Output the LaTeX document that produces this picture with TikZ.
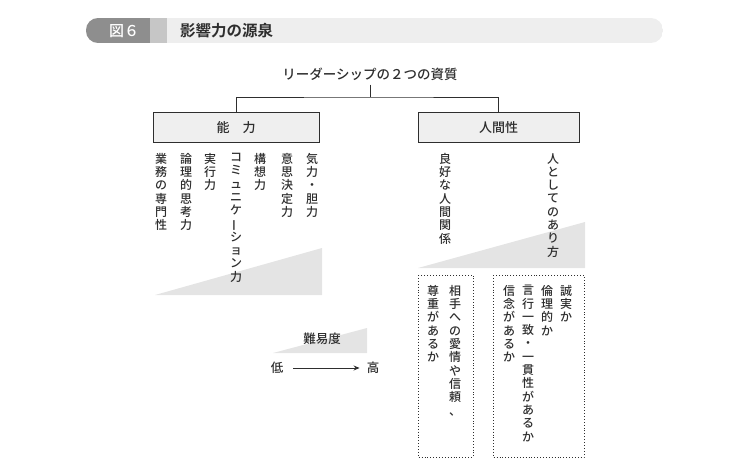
\documentclass[tikz,border=0pt]{standalone}
\usepackage{fontspec}
\setmainfont{Noto Sans CJK JP Medium}[BoldFont={Noto Sans CJK JP Bold}]
\usetikzlibrary{arrows.meta,positioning}
\definecolor{ink}{HTML}{2E2E2E}
\definecolor{hdrdark}{HTML}{8E8E8E}
\definecolor{hdrmid}{HTML}{C6C6C6}
\definecolor{hdrlight}{HTML}{EEEEEE}
\definecolor{boxfill}{HTML}{EFEFEF}
\definecolor{wedgegray}{HTML}{E4E4E4}
\newcommand{\vbar}{\rotatebox[origin=c]{90}{ー}}

\begin{document}
\begin{tikzpicture}[x=1pt,y=-1pt,
  vcol/.style={anchor=north,align=center,inner sep=0pt,text=ink,font=\fontsize{12}{13.3}\selectfont},
  qbox/.style={draw=ink,line width=1pt,fill=boxfill,minimum height=30pt,text=ink,font=\fontsize{13}{15}\selectfont},
  conn/.style={draw=ink,line width=0.8pt},
  dotbox/.style={draw=ink,line width=0.9pt,dotted},
  wedge/.style={fill=wedgegray},
  lbl/.style={inner sep=4pt,text=ink,font=\fontsize{12.5}{14}\selectfont}]
\useasboundingbox (0,0) rectangle (750,476);
% header
\begin{scope}
\clip[rounded corners=12pt] (86,18) rectangle (663,43);
\fill[hdrlight] (86,18) rectangle (663,43);
\fill[hdrdark] (86,18) rectangle (150,43);
\fill[hdrmid] (150,18) rectangle (167,43);
\end{scope}
\node[text=white,font=\fontsize{15}{17}\selectfont] (fig) at (124,31) {図６};
\node[anchor=west,inner sep=0pt,text=ink,font=\fontsize{15.5}{17}\selectfont\bfseries] (title) at (180,31) {影響力の源泉};
% tree
\node[lbl,font=\fontsize{13.5}{15}\selectfont] (top) at (370,74) {リーダーシップの２つの資質};
\node[qbox,minimum width=166pt] (abil) at (236,128) {能　力};
\node[qbox,minimum width=161pt] (human) at (498.5,127.5) {人間性};
\coordinate (jn) at (top.south |- 0,97);
\draw[conn] (top.south) -- (jn);
\draw[conn] (abil.north) |- (jn) -| (human.north);
% abilities
\fill[wedge] (155,295) -- (322,295) -- (322,248) -- cycle;
\node[vcol] (a1) at (161,153) {業\\務\\の\\専\\門\\性};
\node[vcol] (a2) at (186,153) {論\\理\\的\\思\\考\\力};
\node[vcol] (a3) at (210,153) {実\\行\\力};
\node[vcol] (a4) at (236,153) {コ\\ミ\\ュ\\ニ\\ケ\\\vbar\\シ\\ョ\\ン\\力};
\node[vcol] (a5) at (260,153) {構\\想\\力};
\node[vcol] (a6) at (287,153) {意\\思\\決\\定\\力};
\node[vcol] (a7) at (312,153) {気\\力\\・\\胆\\力};
% humanity
\fill[wedge] (418,268) -- (585,268) -- (585,222) -- cycle;
\node[vcol] (h1) at (445,153) {良\\好\\な\\人\\間\\関\\係};
\node[vcol] (h2) at (553,153) {人\\と\\し\\て\\の\\あ\\り\\方};
\draw[dotbox] (418,275) rectangle (473,457);
\draw[dotbox] (493,275) rectangle (584,457);
\node[vcol] (r1) at (455,285) {相\\手\\へ\\の\\愛\\情\\や\\信\\頼\\、};
\node[vcol] (r2) at (433,285) {尊\\重\\が\\あ\\る\\か};
\node[vcol] (s1) at (566,285) {誠\\実\\か};
\node[vcol] (s2) at (547,285) {倫\\理\\的\\か};
\node[vcol] (s3) at (528,285) {言\\行\\一\\致\\・\\一\\貫\\性\\が\\あ\\る\\か};
\node[vcol] (s4) at (509,285) {信\\念\\が\\あ\\る\\か};
% difficulty legend
\fill[wedge] (273,353) -- (367,353) -- (367,328) -- cycle;
\node[lbl] (diff) at (322,339) {難易度};
\node[lbl] (low) at (277,368) {低};
\node[lbl] (high) at (373,368) {高};
\draw[conn,-{Stealth[length=6pt,width=5pt]},shorten <=6pt,shorten >=3pt] (low) -- (high);
\end{tikzpicture}
\end{document}
